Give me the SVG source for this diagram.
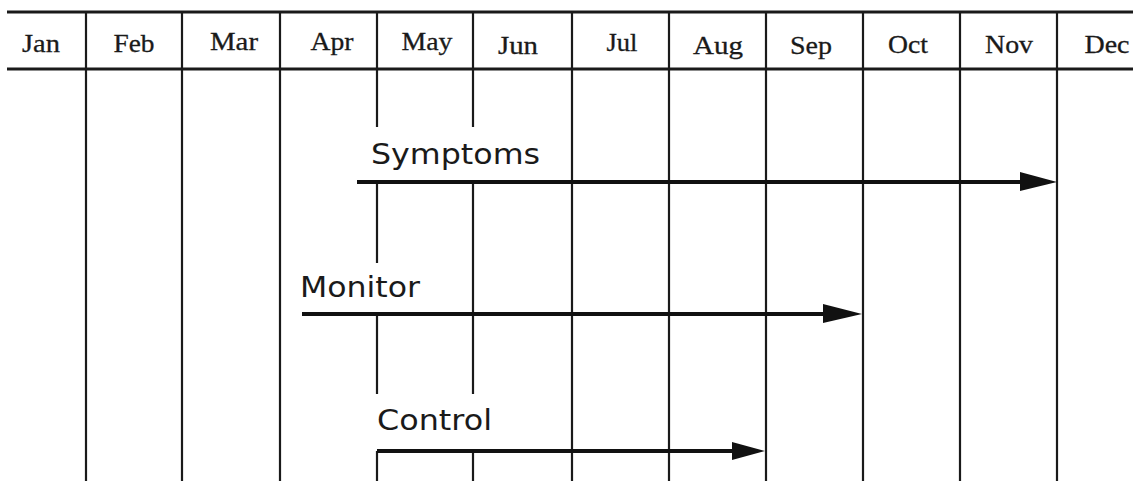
<svg xmlns="http://www.w3.org/2000/svg" width="1133" height="481" viewBox="0 0 1133 481">
<style>
.bg{fill:#fff}
.grid line{stroke:#1a1a1a;stroke-width:2.2}
.hdr{stroke:#1a1a1a;stroke-width:2.8}
.mon{font-family:"Liberation Serif",serif;font-size:26px;fill:#1a1a1a;text-anchor:middle;stroke:#1a1a1a;stroke-width:0.3}
.lbl{font-family:"DejaVu Sans","Liberation Sans",sans-serif;font-size:29px;fill:#1a1a1a;font-weight:normal}
.arr line{stroke:#111;stroke-width:4}
.head{fill:#111}
</style>
<rect class="bg" width="1133" height="481"/>
<g id="header">
<line class="hdr" x1="7" y1="12" x2="1133" y2="12"/>
<line class="hdr" x1="7" y1="69" x2="1133" y2="69"/>
<text class="mon" x="41" y="52" textLength="38" lengthAdjust="spacingAndGlyphs">Jan</text>
<text class="mon" x="134" y="52" textLength="41" lengthAdjust="spacingAndGlyphs">Feb</text>
<text class="mon" x="234" y="50" textLength="48" lengthAdjust="spacingAndGlyphs">Mar</text>
<text class="mon" x="332" y="50" textLength="43" lengthAdjust="spacingAndGlyphs">Apr</text>
<text class="mon" x="427" y="50" textLength="51" lengthAdjust="spacingAndGlyphs">May</text>
<text class="mon" x="518" y="54" textLength="40" lengthAdjust="spacingAndGlyphs">Jun</text>
<text class="mon" x="622" y="51" textLength="31" lengthAdjust="spacingAndGlyphs">Jul</text>
<text class="mon" x="718" y="54" textLength="50" lengthAdjust="spacingAndGlyphs">Aug</text>
<text class="mon" x="811" y="54" textLength="42" lengthAdjust="spacingAndGlyphs">Sep</text>
<text class="mon" x="908" y="53" textLength="40" lengthAdjust="spacingAndGlyphs">Oct</text>
<text class="mon" x="1009" y="53" textLength="48" lengthAdjust="spacingAndGlyphs">Nov</text>
<text class="mon" x="1107" y="53" textLength="45" lengthAdjust="spacingAndGlyphs">Dec</text>
</g>
<g id="grid" class="grid">
<line x1="86" y1="12" x2="86" y2="481"/>
<line x1="182" y1="12" x2="182" y2="481"/>
<line x1="280" y1="12" x2="280" y2="481"/>
<line x1="377" y1="12" x2="377" y2="127"/>
<line x1="377" y1="183" x2="377" y2="263"/>
<line x1="377" y1="314" x2="377" y2="394"/>
<line x1="377" y1="451" x2="377" y2="481"/>
<line x1="473" y1="12" x2="473" y2="127"/>
<line x1="473" y1="183" x2="473" y2="394"/>
<line x1="473" y1="451" x2="473" y2="481"/>
<line x1="572" y1="12" x2="572" y2="481"/>
<line x1="669" y1="12" x2="669" y2="481"/>
<line x1="766" y1="12" x2="766" y2="481"/>
<line x1="863" y1="12" x2="863" y2="481"/>
<line x1="960" y1="12" x2="960" y2="481"/>
<line x1="1057" y1="12" x2="1057" y2="481"/>
</g>
<g id="connectors" class="arr">
<line x1="357" y1="182" x2="1025" y2="182"/>
<polygon class="head" points="1020,172 1057,182 1020,191"/>
<line x1="302" y1="314" x2="828" y2="314"/>
<polygon class="head" points="823,304 862,314 823,323"/>
<line x1="377" y1="451" x2="737" y2="451"/>
<polygon class="head" points="732,442 765,451 732,460"/>
</g>
<g id="symptoms"><text class="lbl" x="371" y="164" textLength="169" lengthAdjust="spacingAndGlyphs">Symptoms</text></g>
<g id="monitor"><text class="lbl" x="300" y="297" textLength="120" lengthAdjust="spacingAndGlyphs">Monitor</text></g>
<g id="control"><text class="lbl" x="377" y="430" textLength="115" lengthAdjust="spacingAndGlyphs">Control</text></g>
</svg>
